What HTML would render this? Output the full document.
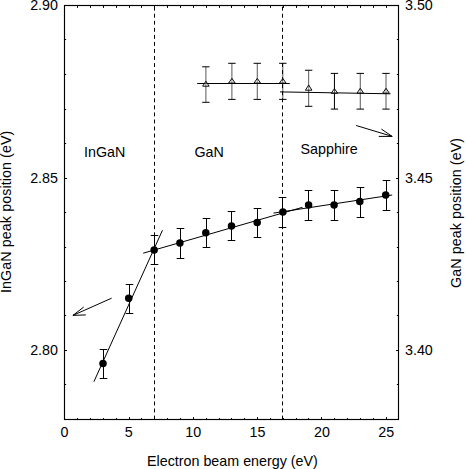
<!DOCTYPE html>
<html><head><meta charset="utf-8"><title>chart</title><style>
html,body{margin:0;padding:0;background:#fff;}
body{width:466px;height:469px;position:relative;overflow:hidden;font-family:"Liberation Sans",sans-serif;color:#000;}
.t{position:absolute;font-size:14.3px;line-height:14px;white-space:nowrap;}
.r{text-align:right;}
.c{text-align:center;}
.rot{transform-origin:0 0;transform:rotate(-90deg);}
</style></head><body>
<svg width="466" height="469" viewBox="0 0 466 469" style="position:absolute;left:0;top:0">
<rect x="0" y="0" width="466" height="469" fill="#fff"/>
<g stroke="#000" stroke-width="1" fill="none">
<line x1="77.5" y1="5" x2="77.5" y2="7.9"/>
<line x1="77.5" y1="420" x2="77.5" y2="418.1"/>
<line x1="90.5" y1="5" x2="90.5" y2="7.9"/>
<line x1="90.5" y1="420" x2="90.5" y2="418.1"/>
<line x1="103.5" y1="5" x2="103.5" y2="7.9"/>
<line x1="103.5" y1="420" x2="103.5" y2="418.1"/>
<line x1="116.5" y1="5" x2="116.5" y2="7.9"/>
<line x1="116.5" y1="420" x2="116.5" y2="418.1"/>
<line x1="129.5" y1="5" x2="129.5" y2="7.9"/>
<line x1="129.5" y1="420" x2="129.5" y2="417.1"/>
<line x1="141.5" y1="5" x2="141.5" y2="7.9"/>
<line x1="141.5" y1="420" x2="141.5" y2="418.1"/>
<line x1="154.5" y1="5" x2="154.5" y2="7.9"/>
<line x1="154.5" y1="420" x2="154.5" y2="418.1"/>
<line x1="167.5" y1="5" x2="167.5" y2="7.9"/>
<line x1="167.5" y1="420" x2="167.5" y2="418.1"/>
<line x1="180.5" y1="5" x2="180.5" y2="7.9"/>
<line x1="180.5" y1="420" x2="180.5" y2="418.1"/>
<line x1="193.5" y1="5" x2="193.5" y2="7.9"/>
<line x1="193.5" y1="420" x2="193.5" y2="417.1"/>
<line x1="206.5" y1="5" x2="206.5" y2="7.9"/>
<line x1="206.5" y1="420" x2="206.5" y2="418.1"/>
<line x1="219.5" y1="5" x2="219.5" y2="7.9"/>
<line x1="219.5" y1="420" x2="219.5" y2="418.1"/>
<line x1="231.5" y1="5" x2="231.5" y2="7.9"/>
<line x1="231.5" y1="420" x2="231.5" y2="418.1"/>
<line x1="244.5" y1="5" x2="244.5" y2="7.9"/>
<line x1="244.5" y1="420" x2="244.5" y2="418.1"/>
<line x1="257.5" y1="5" x2="257.5" y2="7.9"/>
<line x1="257.5" y1="420" x2="257.5" y2="417.1"/>
<line x1="270.5" y1="5" x2="270.5" y2="7.9"/>
<line x1="270.5" y1="420" x2="270.5" y2="418.1"/>
<line x1="283.5" y1="5" x2="283.5" y2="7.9"/>
<line x1="283.5" y1="420" x2="283.5" y2="418.1"/>
<line x1="296.5" y1="5" x2="296.5" y2="7.9"/>
<line x1="296.5" y1="420" x2="296.5" y2="418.1"/>
<line x1="308.5" y1="5" x2="308.5" y2="7.9"/>
<line x1="308.5" y1="420" x2="308.5" y2="418.1"/>
<line x1="321.5" y1="5" x2="321.5" y2="7.9"/>
<line x1="321.5" y1="420" x2="321.5" y2="417.1"/>
<line x1="334.5" y1="5" x2="334.5" y2="7.9"/>
<line x1="334.5" y1="420" x2="334.5" y2="418.1"/>
<line x1="347.5" y1="5" x2="347.5" y2="7.9"/>
<line x1="347.5" y1="420" x2="347.5" y2="418.1"/>
<line x1="360.5" y1="5" x2="360.5" y2="7.9"/>
<line x1="360.5" y1="420" x2="360.5" y2="418.1"/>
<line x1="373.5" y1="5" x2="373.5" y2="7.9"/>
<line x1="373.5" y1="420" x2="373.5" y2="418.1"/>
<line x1="386.5" y1="5" x2="386.5" y2="7.9"/>
<line x1="386.5" y1="420" x2="386.5" y2="417.1"/>
<line x1="64" y1="39.5" x2="66.15" y2="39.5"/>
<line x1="399" y1="39.5" x2="396.85" y2="39.5"/>
<line x1="64" y1="74.5" x2="66.15" y2="74.5"/>
<line x1="399" y1="74.5" x2="396.85" y2="74.5"/>
<line x1="64" y1="109.5" x2="66.15" y2="109.5"/>
<line x1="399" y1="109.5" x2="396.85" y2="109.5"/>
<line x1="64" y1="143.5" x2="66.15" y2="143.5"/>
<line x1="399" y1="143.5" x2="396.85" y2="143.5"/>
<line x1="64" y1="178.5" x2="67.0" y2="178.5"/>
<line x1="399" y1="178.5" x2="396.0" y2="178.5"/>
<line x1="64" y1="212.5" x2="66.15" y2="212.5"/>
<line x1="399" y1="212.5" x2="396.85" y2="212.5"/>
<line x1="64" y1="247.5" x2="66.15" y2="247.5"/>
<line x1="399" y1="247.5" x2="396.85" y2="247.5"/>
<line x1="64" y1="281.5" x2="66.15" y2="281.5"/>
<line x1="399" y1="281.5" x2="396.85" y2="281.5"/>
<line x1="64" y1="315.5" x2="66.15" y2="315.5"/>
<line x1="399" y1="315.5" x2="396.85" y2="315.5"/>
<line x1="64" y1="350.5" x2="67.0" y2="350.5"/>
<line x1="399" y1="350.5" x2="396.0" y2="350.5"/>
<line x1="64" y1="384.5" x2="66.15" y2="384.5"/>
<line x1="399" y1="384.5" x2="396.85" y2="384.5"/>
</g>
<rect x="64.5" y="5.5" width="334.0" height="414.0" stroke="#000" stroke-width="1.15" fill="none"/>
<g stroke="#000" stroke-width="1" stroke-dasharray="3.9 3.15" fill="none">
<line x1="154.5" y1="419.5" x2="154.5" y2="5.5"/>
<line x1="282.5" y1="419.5" x2="282.5" y2="5.5"/>
</g>
<g stroke="#000" stroke-width="1" fill="none">
<line x1="93.9" y1="381.7" x2="162.5" y2="230.2"/>
<line x1="143.2" y1="253.2" x2="302.5" y2="207.3"/>
<line x1="273.5" y1="213.1" x2="392.2" y2="195.0"/>
<line x1="197.2" y1="83.5" x2="289.8" y2="83.5"/>
<line x1="280" y1="91.9" x2="390.5" y2="93.8"/>
</g>
<g stroke="#000" stroke-width="1" fill="none">
<path d="M103.5 349.5V378.5M99.70 349.5h7.6M99.70 378.5h7.6"/>
<path d="M129.5 284.5V313.5M125.70 284.5h7.6M125.70 313.5h7.6"/>
<path d="M154.5 235.5V264.5M150.70 235.5h7.6M150.70 264.5h7.6"/>
<path d="M180.5 228.5V258.5M176.70 228.5h7.6M176.70 258.5h7.6"/>
<path d="M206.5 218.5V247.5M202.70 218.5h7.6M202.70 247.5h7.6"/>
<path d="M231.5 211.5V240.5M227.70 211.5h7.6M227.70 240.5h7.6"/>
<path d="M257.5 208.5V237.5M253.70 208.5h7.6M253.70 237.5h7.6"/>
<path d="M282.5 197.5V227.5M278.70 197.5h7.6M278.70 227.5h7.6"/>
<path d="M308.5 190.5V220.5M304.70 190.5h7.6M304.70 220.5h7.6"/>
<path d="M334.5 190.5V220.5M330.70 190.5h7.6M330.70 220.5h7.6"/>
<path d="M360.5 187.5V217.5M356.70 187.5h7.6M356.70 217.5h7.6"/>
<path d="M386.5 180.5V210.5M382.70 180.5h7.6M382.70 210.5h7.6"/>
</g>
<g fill="#000">
<circle cx="103.00" cy="363.50" r="3.75"/>
<circle cx="128.70" cy="298.30" r="3.75"/>
<circle cx="154.15" cy="250.00" r="3.75"/>
<circle cx="179.90" cy="243.05" r="3.75"/>
<circle cx="205.80" cy="232.80" r="3.75"/>
<circle cx="231.50" cy="225.90" r="3.75"/>
<circle cx="257.20" cy="222.60" r="3.75"/>
<circle cx="282.90" cy="212.00" r="3.75"/>
<circle cx="308.60" cy="205.10" r="3.75"/>
<circle cx="334.10" cy="205.10" r="3.75"/>
<circle cx="359.80" cy="201.60" r="3.75"/>
<circle cx="385.70" cy="195.00" r="3.75"/>
</g>
<g stroke="#000" stroke-width="1" fill="none">
<path d="M205.90 66.80V102.30" stroke-opacity="0.66"/>
<path d="M202.20 66.80h7.4M202.20 102.30h7.4"/>
<path d="M231.90 63.30V99.40" stroke-opacity="0.66"/>
<path d="M228.20 63.30h7.4M228.20 99.40h7.4"/>
<path d="M257.27 63.30V99.40" stroke-opacity="0.66"/>
<path d="M253.57 63.30h7.4M253.57 99.40h7.4"/>
<path d="M282.80 63.30V99.40" stroke-opacity="0.66"/>
<path d="M279.10 63.30h7.4M279.10 99.40h7.4"/>
<path d="M308.66 70.26V106.30" stroke-opacity="0.66"/>
<path d="M304.96 70.26h7.4M304.96 106.30h7.4"/>
<path d="M334.45 73.40V109.10" stroke-opacity="1.0"/>
<path d="M330.75 73.40h7.4M330.75 109.10h7.4"/>
<path d="M360.27 73.40V109.10" stroke-opacity="0.66"/>
<path d="M356.57 73.40h7.4M356.57 109.10h7.4"/>
<path d="M386.00 73.40V109.10" stroke-opacity="0.66"/>
<path d="M382.30 73.40h7.4M382.30 109.10h7.4"/>
<path d="M205.90 81.25L209.15 86.20H202.65Z" fill="#fff" fill-opacity="0.3" stroke-width="0.95" stroke-linejoin="miter"/>
<path d="M231.90 78.35L235.15 83.05H228.65Z" fill="#fff" fill-opacity="0.3" stroke-width="0.95" stroke-linejoin="miter"/>
<path d="M257.27 78.35L260.52 83.05H254.02Z" fill="#fff" fill-opacity="0.3" stroke-width="0.95" stroke-linejoin="miter"/>
<path d="M282.80 78.35L286.05 83.05H279.55Z" fill="#fff" fill-opacity="0.3" stroke-width="0.95" stroke-linejoin="miter"/>
<path d="M308.66 85.00L311.91 90.20H305.41Z" fill="#fff" fill-opacity="0.3" stroke-width="0.95" stroke-linejoin="miter"/>
<path d="M334.45 88.60L337.70 93.35H331.20Z" fill="#fff" fill-opacity="0.3" stroke-width="0.95" stroke-linejoin="miter"/>
<path d="M360.27 88.25L363.52 93.10H357.02Z" fill="#fff" fill-opacity="0.3" stroke-width="0.95" stroke-linejoin="miter"/>
<path d="M386.00 88.25L389.25 93.10H382.75Z" fill="#fff" fill-opacity="0.3" stroke-width="0.95" stroke-linejoin="miter"/>
</g>
<g stroke="#000" stroke-width="1" fill="none" stroke-linecap="butt">
<path d="M111.6 298.2L72.9 315.4M83.7 307.1L72.9 315.4L85.8 314.9"/>
<path d="M356.2 125.5L392.2 136.4M381.4 129.1L392.2 136.4L378.8 136.4"/>
</g>
</svg>
<div class="t r" style="left:0;width:58px;top:-2.0px">2.90</div>
<div class="t r" style="left:0;width:58px;top:171.0px">2.85</div>
<div class="t r" style="left:0;width:58px;top:343.0px">2.80</div>
<div class="t" style="left:405px;top:-2.0px">3.50</div>
<div class="t" style="left:405px;top:171.0px">3.45</div>
<div class="t" style="left:405px;top:343.0px">3.40</div>
<div class="t c" style="left:44.5px;width:40px;top:424.5px">0</div>
<div class="t c" style="left:108.8px;width:40px;top:424.5px">5</div>
<div class="t c" style="left:173.2px;width:40px;top:424.5px">10</div>
<div class="t c" style="left:237.5px;width:40px;top:424.5px">15</div>
<div class="t c" style="left:301.9px;width:40px;top:424.5px">20</div>
<div class="t c" style="left:366.2px;width:40px;top:424.5px">25</div>
<div class="t" style="left:147.0px;top:453.6px">Electron beam energy (eV)</div>
<div class="t" style="left:84px;top:145.4px">InGaN</div>
<div class="t" style="left:194.5px;top:145.4px">GaN</div>
<div class="t" style="left:300.5px;top:142px">Sapphire</div>
<div class="t rot" style="left:-0.7px;top:292.8px;letter-spacing:0.08px">InGaN peak position (eV)</div>
<div class="t rot" style="left:449.4px;top:287.8px;letter-spacing:0.07px">GaN peak position (eV)</div>
</body></html>
